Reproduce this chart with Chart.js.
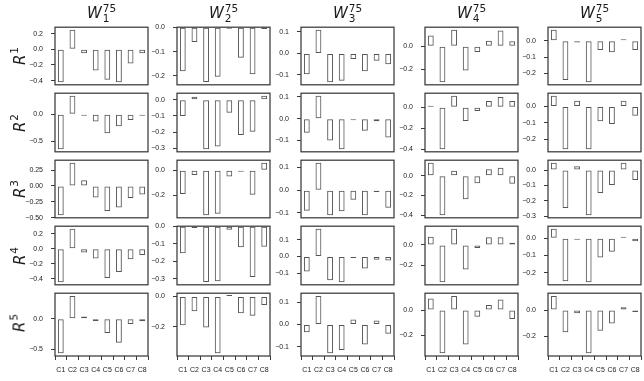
<!DOCTYPE html>
<html>
<head>
<meta charset="utf-8">
<script src="https://cdn.jsdelivr.net/npm/chart.js@4.4.0/dist/chart.umd.min.js"></script>
<style>
  body { margin: 0; background: #fff; width: 644px; height: 381px; overflow: hidden; position: relative; font-family: "DejaVu Sans", sans-serif; }
  canvas { position: absolute; }
  .ttl { position: absolute; top: 3px; font-size: 15px; line-height: 18px; white-space: nowrap; transform: translateX(-50%); color: #1a1a1a; }
  .ttl i, .rlab i { font-style: italic; }
  .scr { display: inline-block; vertical-align: -4px; font-size: 10.5px; line-height: 10px; margin-left: 1px; }
  .scr span { display: block; }
  .rlab { position: absolute; font-size: 15px; line-height: 18px; white-space: nowrap; transform: translate(-50%, -50%) rotate(-90deg); color: #1a1a1a; }
  .rlab sup { font-size: 10.5px; position: relative; top: -1px; margin-left: 1px; }
</style>
</head>
<body>
<script>
// categories and labels
const categories = ['C1', 'C2', 'C3', 'C4', 'C5', 'C6', 'C7', 'C8'];
const rowSup = ['1', '2', '3', '4', '5'];   // R^k
const colSub = ['1', '2', '3', '4', '5'];   // W_k^75
const titleSup = '75';

// bar values, one array per panel (row R, column W)
const R1W1 = [-0.42, 0.25, -0.05, -0.27, -0.39, -0.42, -0.18, -0.05];
const R1W2 = [-0.181, -0.061, -0.225, -0.203, -0.002, -0.125, -0.193, -0.007];
const R1W3 = [-0.097, 0.11, -0.134, -0.127, -0.026, -0.083, -0.034, -0.051];
const R1W4 = [0.095, -0.316, 0.146, -0.212, -0.05, 0.05, 0.14, 0.045];
const R1W5 = [0.067, -0.24, -0.01, -0.254, -0.056, -0.07, 0.006, -0.056];

const R2W1 = [-0.645, 0.34, -0.025, -0.135, -0.35, -0.22, -0.108, -0.03];
const R2W2 = [-0.1, 0.018, -0.306, -0.29, -0.081, -0.219, -0.198, 0.024];
const R2W3 = [-0.065, 0.105, -0.1, -0.14, -0.004, -0.056, -0.012, -0.087];
const R2W4 = [0.015, -0.4, 0.11, -0.13, -0.035, 0.06, 0.1, 0.06];
const R2W5 = [0.064, -0.259, 0.035, -0.259, -0.09, -0.107, 0.035, -0.057];

const R3W1 = [-0.46, 0.364, 0.09, -0.18, -0.395, -0.34, -0.19, -0.136];
const R3W2 = [-0.188, -0.039, -0.356, -0.345, -0.05, -0.004, -0.195, 0.058];
const R3W3 = [-0.09, 0.12, -0.11, -0.093, -0.042, -0.11, -0.008, -0.077];
const R3W4 = [0.13, -0.4, 0.05, -0.238, -0.077, 0.064, 0.08, -0.082];
const R3W5 = [0.047, -0.247, 0.025, -0.294, -0.15, -0.097, 0.047, -0.065];

const R4W1 = [-0.444, 0.266, -0.05, -0.13, -0.39, -0.31, -0.138, -0.082];
const R4W2 = [-0.154, -0.01, -0.318, -0.313, -0.02, -0.12, -0.29, -0.117];
const R4W3 = [-0.091, 0.166, -0.144, -0.155, -0.003, -0.073, -0.02, -0.025];
const R4W4 = [0.08, -0.37, 0.159, -0.244, -0.032, 0.075, 0.075, 0.022];
const R4W5 = [0.055, -0.25, -0.003, -0.255, -0.112, -0.078, 0.007, -0.017];

const R5W1 = [-0.567, 0.377, 0.037, -0.035, -0.232, -0.396, -0.087, -0.04];
const R5W2 = [-0.19, -0.097, -0.206, -0.375, 0.003, -0.111, -0.128, -0.056];
const R5W3 = [-0.035, 0.128, -0.129, -0.115, 0.023, -0.09, 0.018, -0.042];
const R5W4 = [0.091, -0.34, 0.111, -0.272, -0.052, 0.041, 0.084, -0.07];
const R5W5 = [0.108, -0.171, -0.024, -0.332, -0.159, -0.104, 0.022, -0.014];

// y tick labels, one list per panel, per row
const R1_ticks = [['0.2', '0.0', '−0.2', '−0.4'], ['0.0', '−0.1', '−0.2'], ['0.1', '0.0', '−0.1'], ['0.0', '−0.2'], ['0.0', '−0.1', '−0.2']];
const R2_ticks = [['0.0', '−0.5'], ['0.0', '−0.1', '−0.2', '−0.3'], ['0.1', '0.0', '−0.1'], ['0.0', '−0.2', '−0.4'], ['0.0', '−0.1', '−0.2']];
const R3_ticks = [['0.25', '0.00', '−0.25', '−0.50'], ['0.0', '−0.2'], ['0.1', '0.0', '−0.1'], ['0.0', '−0.2', '−0.4'], ['0.0', '−0.1', '−0.2', '−0.3']];
const R4_ticks = [['0.2', '0.0', '−0.2', '−0.4'], ['0.0', '−0.1', '−0.2', '−0.3'], ['0.1', '0.0', '−0.1'], ['0.0', '−0.2'], ['0.0', '−0.1', '−0.2']];
const R5_ticks = [['0.0', '−0.5'], ['0.0', '−0.2'], ['0.1', '0.0', '−0.1'], ['0.0', '−0.2'], ['0.0', '−0.2']];

const panelValues = [
    [R1W1, R1W2, R1W3, R1W4, R1W5],
    [R2W1, R2W2, R2W3, R2W4, R2W5],
    [R3W1, R3W2, R3W3, R3W4, R3W5],
    [R4W1, R4W2, R4W3, R4W4, R4W5],
    [R5W1, R5W2, R5W3, R5W4, R5W5]
];
const panelTicks = [R1_ticks, R2_ticks, R3_ticks, R4_ticks, R5_ticks];

// layout of the grid (page pixels)
const colLeft = [55, 177, 301, 425, 548];
const rowTop = [23, 89, 156, 222, 289, 356];
const PANEL_W = 93;
const AXIS_W = 40;   // room for y tick labels
const PAD = 8;
const X_AXIS_H = 24;

const tickFont = { family: 'Liberation Sans', size: 7 };
const tickColor = '#222';
const lineColor = '#3a3a3a';

// frame round each panel
const framePlugin = {
    id: 'frame',
    afterDraw(chart) {
        const a = chart.chartArea;
        const ctx = chart.ctx;
        ctx.save();
        ctx.strokeStyle = lineColor;
        ctx.lineWidth = 1.25;
        ctx.strokeRect(a.left, a.top, a.right - a.left, a.bottom - a.top);
        ctx.restore();
    }
};

// matplotlib-like autoscale: 5% margin, sticky at zero for bars
function axisRange(vals) {
    const lo = Math.min(0, ...vals);
    const hi = Math.max(0, ...vals);
    const m = 0.05 * (hi - lo);
    return { min: lo < 0 ? lo - m : 0, max: hi > 0 ? hi + m : 0 };
}

function makePanel(r, c) {
    const values = panelValues[r][c];
    const labels = panelTicks[r][c];
    const tickVals = labels.map(l => parseFloat(l.replace('−', '-')));
    const bottom = r === 4;
    const h = rowTop[r + 1] - rowTop[r];
    const range = axisRange(values);

    const canvas = document.createElement('canvas');
    canvas.width = AXIS_W + PANEL_W + PAD;
    canvas.height = PAD + h + PAD + (bottom ? X_AXIS_H : 0);
    canvas.style.left = (colLeft[c] - AXIS_W) + 'px';
    canvas.style.top = (rowTop[r] - PAD) + 'px';
    document.body.appendChild(canvas);

    new Chart(canvas, {
        type: 'bar',
        data: {
            labels: categories,
            datasets: [{
                data: values,
                backgroundColor: 'rgba(255,255,255,0)',
                borderColor: '#555',
                borderWidth: 1,
                borderSkipped: false,
                barPercentage: 0.5,
                categoryPercentage: 1.0,
                minBarLength: 1.5
            }]
        },
        options: {
            responsive: false,
            maintainAspectRatio: false,
            animation: false,
            layout: { padding: { left: 0, right: PAD, top: PAD, bottom: PAD } },
            plugins: { legend: { display: false }, tooltip: { enabled: false } },
            scales: {
                x: {
                    display: bottom,
                    offset: true,
                    grid: { display: true, drawOnChartArea: false, drawTicks: true, tickLength: 4, color: lineColor },
                    border: { display: false },
                    ticks: { font: tickFont, color: tickColor, padding: 6, maxRotation: 0, autoSkip: false },
                    afterFit: s => { s.height = bottom ? X_AXIS_H : 0; }
                },
                y: {
                    min: range.min,
                    max: range.max,
                    afterBuildTicks: s => { s.ticks = tickVals.map(v => ({ value: v })); },
                    grid: { drawOnChartArea: false, drawTicks: true, tickLength: 4, color: lineColor },
                    border: { display: false },
                    ticks: { font: tickFont, color: tickColor, padding: 8, callback: (v, i) => labels[i] },
                    afterFit: s => { s.width = AXIS_W; }
                }
            }
        },
        plugins: [framePlugin]
    });
}

for (let r = 0; r < 5; r++) {
    for (let c = 0; c < 5; c++) makePanel(r, c);
}

// column titles W_k^75
colSub.forEach((k, c) => {
    const d = document.createElement('div');
    d.className = 'ttl';
    d.style.left = (colLeft[c] + PANEL_W / 2) + 'px';
    d.innerHTML = '<i>W</i><span class="scr"><span>' + titleSup + '</span><span>' + k + '</span></span>';
    document.body.appendChild(d);
});

// row labels R^k
rowSup.forEach((k, r) => {
    const d = document.createElement('div');
    d.className = 'rlab';
    d.style.left = '17px';
    d.style.top = ((rowTop[r] + rowTop[r + 1]) / 2) + 'px';
    d.innerHTML = '<i>R</i><sup>' + k + '</sup>';
    document.body.appendChild(d);
});
</script>
</body>
</html>
